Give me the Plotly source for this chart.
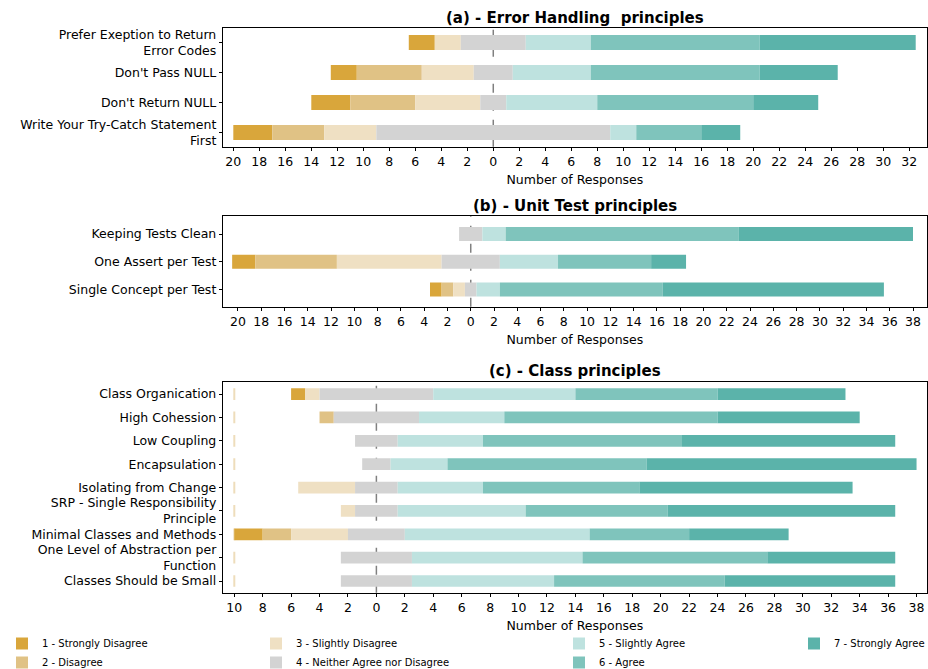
import plotly.graph_objects as go

# ---------------- data ----------------
levels = ["1 - Strongly Disagree", "2 - Disagree", "3 - Slightly Disagree",
          "4 - Neither Agree nor Disagree", "5 - Slightly Agree", "6 - Agree",
          "7 - Strongly Agree"]
level_colors = ["#D9A63B", "#E0C285", "#EFE0C3", "#D3D3D3", "#BEE2DF", "#7FC4BC", "#5BB3AA"]

eh_items = ["Prefer Exeption to Return\nError Codes", "Don't Pass NULL",
            "Don't Return NULL", "Write Your Try-Catch Statement\nFirst"]
eh_counts = [[2, 0, 2, 5, 5, 13, 12],
             [2, 5, 4, 3, 6, 13, 6],
             [3, 5, 5, 2, 7, 12, 5],
             [3, 4, 4, 18, 2, 5, 3]]

ut_items = ["Keeping Tests Clean", "One Assert per Test", "Single Concept per Test"]
ut_counts = [[0, 0, 0, 2, 2, 20, 15],
             [2, 7, 9, 5, 5, 8, 3],
             [1, 1, 1, 1, 2, 14, 19]]

cl_items = ["Class Organication", "High Cohession", "Low Coupling", "Encapsulation",
            "Isolating from Change", "SRP - Single Responsibility\nPrinciple",
            "Minimal Classes and Methods", "One Level of Abstraction per\nFunction",
            "Classes Should be Small"]
cl_counts = [[1, 0, 1, 8, 10, 10, 9],
             [0, 1, 0, 6, 6, 15, 10],
             [0, 0, 0, 3, 6, 14, 15],
             [0, 0, 0, 2, 4, 14, 19],
             [0, 0, 4, 3, 6, 11, 15],
             [0, 0, 1, 3, 9, 10, 16],
             [2, 2, 4, 4, 13, 7, 7],
             [0, 0, 0, 5, 12, 13, 9],
             [0, 0, 0, 5, 10, 12, 12]]

panel_titles = ["(a) - Error Handling\u00a0 principles", "(b) - Unit Test principles",
                "(c) - Class principles"]
x_title = "Number of Responses"

# ---------------- layout geometry (pixels) ----------------
W, H = 928, 669
plot_left, plot_right = 223.3, 926.5
panels = [
    dict(items=eh_items, counts=eh_counts, top=28.0, bottom=146.7,
         xr=[-20.77, 33.33], yr=[-0.48, 0.47], ticks=list(range(-20, 33, 2)), pad=False),
    dict(items=ut_items, counts=ut_counts, top=216.0, bottom=306.7,
         xr=[-21.26, 39.16], yr=[-0.65, 0.62], ticks=list(range(-20, 39, 2)), pad=False),
    dict(items=cl_items, counts=cl_counts, top=381.7, bottom=592.7,
         xr=[-10.77, 38.7], yr=[-0.53, 0.5], ticks=list(range(-10, 39, 2)), pad=True),
]
legend_of_level = ["legend", "legend", "legend2", "legend2", "legend3", "legend3", "legend4"]


def px_x(p):
    return p / W


def px_y(p):
    return 1 - p / H


fig = go.Figure()
layout = dict(width=W, height=H, margin=dict(l=0, r=0, t=0, b=0, autoexpand=False),
              plot_bgcolor="white", paper_bgcolor="white", barmode="overlay",
              font=dict(family="DejaVu Sans", size=12.5, color="black"),
              shapes=[], annotations=[])

for pi, p in enumerate(panels):
    n = len(p["items"])
    xa = "x" if pi == 0 else f"x{pi + 1}"
    ya = "y" if pi == 0 else f"y{pi + 1}"
    xkey = "xaxis" if pi == 0 else f"xaxis{pi + 1}"
    ykey = "yaxis" if pi == 0 else f"yaxis{pi + 1}"
    ys = list(range(n))
    lefts = [-(c[0] + c[1] + c[2] + c[3] / 2) for c in p["counts"]]

    if p["pad"]:
        far = min(lefts)
        fig.add_trace(go.Bar(orientation="h", y=ys, x=[0.07] * n, base=[far] * n,
                             width=0.5, marker=dict(color="#EEDDBB", line=dict(width=0)),
                             xaxis=xa, yaxis=ya, showlegend=False, hoverinfo="skip"))

    starts = lefts[:]
    for k, lev in enumerate(levels):
        vals = [c[k] for c in p["counts"]]
        fig.add_trace(go.Bar(orientation="h", y=ys, x=vals, base=starts[:], width=0.5,
                             name=lev, marker=dict(color=level_colors[k], line=dict(width=0)),
                             xaxis=xa, yaxis=ya, showlegend=(pi == 0),
                             legend=legend_of_level[k]))
        starts = [s + v for s, v in zip(starts, vals)]

    layout[xkey] = dict(domain=[px_x(plot_left), px_x(plot_right)], anchor=ya,
                        range=p["xr"], tickvals=p["ticks"],
                        ticktext=[str(abs(t)) for t in p["ticks"]],
                        ticks="outside", ticklen=3.5, tickwidth=0.8, tickcolor="black",
                        showline=True, mirror=True, linecolor="black", linewidth=1,
                        showgrid=False, zeroline=False, tickfont=dict(size=12.5),
                        automargin=False,
                        title=dict(text=x_title, font=dict(size=12.5), standoff=7))
    layout[ykey] = dict(domain=[px_y(p["bottom"]), px_y(p["top"])], anchor=xa,
                        range=[n - 1 + p["yr"][1], p["yr"][0]],
                        tickvals=ys, ticktext=[s.replace("\n", "<br>") for s in p["items"]],
                        ticks="outside", ticklen=3.5, tickwidth=0.8, tickcolor="black",
                        showline=True, mirror=True, linecolor="black", linewidth=1,
                        showgrid=False, zeroline=False, tickfont=dict(size=12.5),
                        automargin=False)
    layout["shapes"].append(dict(type="line", xref=xa, yref=f"{ya} domain", x0=0, x1=0,
                                 y0=0, y1=1, layer="below",
                                 line=dict(color="#808080", width=1.5, dash="dash")))
    layout["annotations"].append(dict(text=panel_titles[pi], xref="paper", yref="paper",
                                      x=px_x((plot_left + plot_right) / 2),
                                      y=px_y(p["top"] - 10.5), xanchor="center",
                                      yanchor="middle", showarrow=False,
                                      font=dict(size=15, weight="bold")))

leg_common = dict(orientation="v", font=dict(size=10), bgcolor="rgba(0,0,0,0)",
                  xanchor="left", yanchor="top", traceorder="normal")
leg_x = [2, 256, 559, 794]
for i, key in enumerate(["legend", "legend2", "legend3", "legend4"]):
    layout[key] = dict(leg_common, x=px_x(leg_x[i]), y=px_y(629))

fig.update_layout(**layout)
fig.write_html("out.html", config={"displayModeBar": False},
               post_script="document.body.style.margin='0';document.body.style.overflow='hidden';")
